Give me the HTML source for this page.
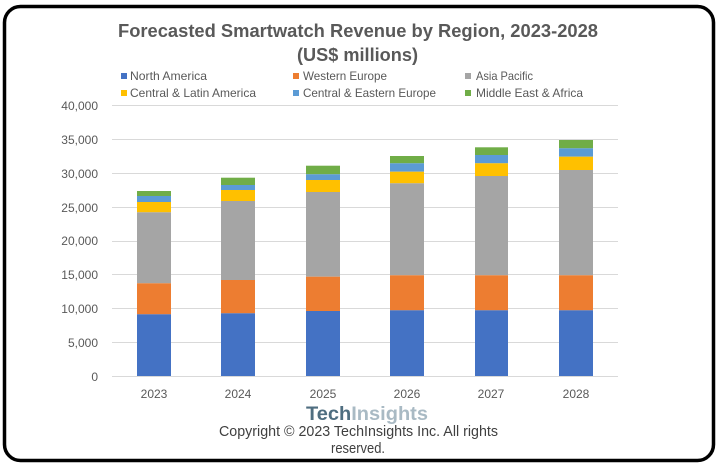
<!DOCTYPE html>
<html>
<head>
<meta charset="utf-8">
<style>
html,body{margin:0;padding:0;background:#fff;}
body{width:718px;height:468px;overflow:hidden;}
svg{display:block;}
text{font-family:"Liberation Sans",sans-serif;}
</style>
</head>
<body>
<svg width="718" height="468" viewBox="0 0 718 468" xmlns="http://www.w3.org/2000/svg">
<rect x="0" y="0" width="718" height="468" fill="#fff"/>
<rect x="4.5" y="6.5" width="709" height="454" rx="16" ry="16" fill="#fff" stroke="#000" stroke-width="3.5"/>

<!-- Title -->
<text x="358" y="37" font-size="18.5" font-weight="bold" fill="#595959" text-anchor="middle" textLength="480" lengthAdjust="spacingAndGlyphs">Forecasted Smartwatch Revenue by Region, 2023-2028</text>
<text x="357.5" y="61" font-size="18.5" font-weight="bold" fill="#595959" text-anchor="middle" textLength="121" lengthAdjust="spacingAndGlyphs">(US$ millions)</text>

<!-- Legend -->
<g font-size="12" fill="#595959">
<rect x="121" y="73" width="6" height="6" fill="#4472C4"/>
<text x="130" y="80" textLength="77" lengthAdjust="spacingAndGlyphs">North America</text>
<rect x="293" y="73" width="6" height="6" fill="#ED7D31"/>
<text x="303" y="80" textLength="84" lengthAdjust="spacingAndGlyphs">Western Europe</text>
<rect x="465" y="73" width="6" height="6" fill="#A5A5A5"/>
<text x="476" y="80" textLength="57" lengthAdjust="spacingAndGlyphs">Asia Pacific</text>
<rect x="121" y="90" width="6" height="6" fill="#FFC000"/>
<text x="130" y="97" textLength="126" lengthAdjust="spacingAndGlyphs">Central &amp; Latin America</text>
<rect x="293" y="90" width="6" height="6" fill="#5B9BD5"/>
<text x="303" y="97" textLength="133" lengthAdjust="spacingAndGlyphs">Central &amp; Eastern Europe</text>
<rect x="465" y="90" width="6" height="6" fill="#70AD47"/>
<text x="476" y="97" textLength="107" lengthAdjust="spacingAndGlyphs">Middle East &amp; Africa</text>
</g>

<!-- Gridlines -->
<g stroke="#D9D9D9" stroke-width="1">
<line x1="112" x2="618" y1="105.5" y2="105.5"/>
<line x1="112" x2="618" y1="139.5" y2="139.5"/>
<line x1="112" x2="618" y1="173.5" y2="173.5"/>
<line x1="112" x2="618" y1="207.5" y2="207.5"/>
<line x1="112" x2="618" y1="241.5" y2="241.5"/>
<line x1="112" x2="618" y1="274.5" y2="274.5"/>
<line x1="112" x2="618" y1="308.5" y2="308.5"/>
<line x1="112" x2="618" y1="342.5" y2="342.5"/>
<line x1="112" x2="618" y1="376.5" y2="376.5"/>
</g>

<!-- Y labels -->
<g font-size="12" fill="#595959" text-anchor="end">
<text x="98" y="110">40,000</text>
<text x="98" y="144">35,000</text>
<text x="98" y="178">30,000</text>
<text x="98" y="212">25,000</text>
<text x="98" y="245">20,000</text>
<text x="98" y="279">15,000</text>
<text x="98" y="313">10,000</text>
<text x="98" y="347">5,000</text>
<text x="98" y="381">0</text>
</g>

<!-- Bars -->
<g>
<!-- 2023 -->
<rect x="137" y="191" width="34" height="5" fill="#70AD47"/>
<rect x="137" y="196" width="34" height="6" fill="#5B9BD5"/>
<rect x="137" y="202" width="34" height="10.3" fill="#FFC000"/>
<rect x="137" y="212.3" width="34" height="71" fill="#A5A5A5"/>
<rect x="137" y="283.3" width="34" height="31" fill="#ED7D31"/>
<rect x="137" y="314.3" width="34" height="61.7" fill="#4472C4"/>
<!-- 2024 -->
<rect x="221" y="177.7" width="34" height="7.3" fill="#70AD47"/>
<rect x="221" y="185" width="34" height="5" fill="#5B9BD5"/>
<rect x="221" y="190" width="34" height="11" fill="#FFC000"/>
<rect x="221" y="201" width="34" height="79" fill="#A5A5A5"/>
<rect x="221" y="280" width="34" height="33.3" fill="#ED7D31"/>
<rect x="221" y="313.3" width="34" height="62.7" fill="#4472C4"/>
<!-- 2025 -->
<rect x="306" y="165.7" width="34" height="8.6" fill="#70AD47"/>
<rect x="306" y="174.3" width="34" height="5.7" fill="#5B9BD5"/>
<rect x="306" y="180" width="34" height="12" fill="#FFC000"/>
<rect x="306" y="192" width="34" height="84.7" fill="#A5A5A5"/>
<rect x="306" y="276.7" width="34" height="34.3" fill="#ED7D31"/>
<rect x="306" y="311" width="34" height="65" fill="#4472C4"/>
<!-- 2026 -->
<rect x="390" y="156" width="34" height="7.3" fill="#70AD47"/>
<rect x="390" y="163.3" width="34" height="8.4" fill="#5B9BD5"/>
<rect x="390" y="171.7" width="34" height="11.6" fill="#FFC000"/>
<rect x="390" y="183.3" width="34" height="92" fill="#A5A5A5"/>
<rect x="390" y="275.3" width="34" height="35" fill="#ED7D31"/>
<rect x="390" y="310.3" width="34" height="65.7" fill="#4472C4"/>
<!-- 2027 -->
<rect x="475" y="147.3" width="33" height="7.7" fill="#70AD47"/>
<rect x="475" y="155" width="33" height="8.3" fill="#5B9BD5"/>
<rect x="475" y="163.3" width="33" height="12.7" fill="#FFC000"/>
<rect x="475" y="176" width="33" height="99.3" fill="#A5A5A5"/>
<rect x="475" y="275.3" width="33" height="35" fill="#ED7D31"/>
<rect x="475" y="310.3" width="33" height="65.7" fill="#4472C4"/>
<!-- 2028 -->
<rect x="559" y="140" width="34" height="8.3" fill="#70AD47"/>
<rect x="559" y="148.3" width="34" height="8.4" fill="#5B9BD5"/>
<rect x="559" y="156.7" width="34" height="13.3" fill="#FFC000"/>
<rect x="559" y="170" width="34" height="105.3" fill="#A5A5A5"/>
<rect x="559" y="275.3" width="34" height="35" fill="#ED7D31"/>
<rect x="559" y="310.3" width="34" height="65.7" fill="#4472C4"/>
</g>

<!-- X labels -->
<g font-size="12" fill="#595959" text-anchor="middle">
<text x="154" y="398">2023</text>
<text x="238" y="398">2024</text>
<text x="323" y="398">2025</text>
<text x="407" y="398">2026</text>
<text x="491" y="398">2027</text>
<text x="576" y="398">2028</text>
</g>

<!-- Logo -->
<text x="306" y="420" font-size="19.5" font-weight="bold" textLength="122" lengthAdjust="spacingAndGlyphs"><tspan fill="#4F6E80">Tech</tspan><tspan fill="#A9BAC4">Insights</tspan></text>

<!-- Copyright -->
<text x="358.5" y="436" font-size="14.5" fill="#404040" text-anchor="middle" textLength="279" lengthAdjust="spacingAndGlyphs">Copyright © 2023 TechInsights Inc.  All rights</text>
<text x="358" y="453" font-size="14.5" fill="#404040" text-anchor="middle" textLength="54" lengthAdjust="spacingAndGlyphs">reserved.</text>
</svg>
</body>
</html>
